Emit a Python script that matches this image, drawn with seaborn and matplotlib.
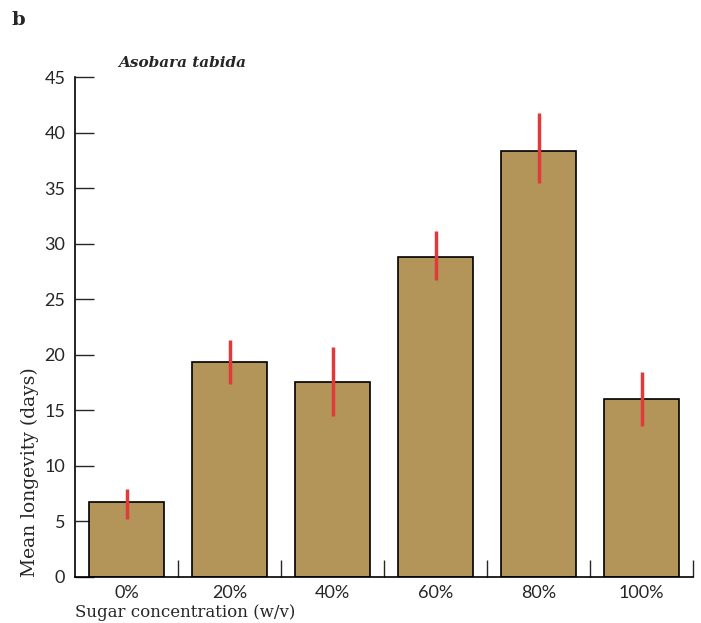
import matplotlib
matplotlib.use("Agg")
import matplotlib.pyplot as plt
import numpy as np
import pandas as pd
import seaborn as sns

# valeurs
concentrations = ["0%", "20%", "40%", "60%", "80%", "100%"]
longevite = [6.75, 19.35, 17.55, 28.8, 38.3, 16.0]
err_bas = [5.2, 17.4, 14.5, 26.7, 35.5, 13.6]
err_haut = [7.9, 21.3, 20.7, 31.1, 41.8, 18.45]

BAR_COLOR = "#b3955a"
ERR_COLOR = "#e03a3a"

sns.set_theme(style="ticks")
plt.rcParams["font.family"] = ["Lato", "DejaVu Sans"]

df = pd.DataFrame({"conc": concentrations, "mean": longevite})

fig = plt.figure(figsize=(7.01, 6.23), dpi=100)
ax = fig.add_axes([0.107, 0.074, 0.8816, 0.8024])

sns.barplot(data=df, x="conc", y="mean", color=BAR_COLOR, saturation=1,
            width=0.72, edgecolor="black", linewidth=1.2, ax=ax)

pos = np.arange(len(concentrations))
ax.vlines(pos, err_bas, err_haut, color=ERR_COLOR, linewidth=2.5, zorder=5)

ax.set_xlim(-0.5, 5.5)
ax.set_ylim(0, 45)
ax.set_yticks(np.arange(0, 50, 5))
sns.despine(ax=ax, top=True, right=True)

ax.tick_params(axis="y", direction="in", length=14, width=1, labelsize=13, pad=7)
ax.tick_params(axis="x", which="major", length=0, labelsize=13, pad=6)
ax.set_xticks(np.arange(0.5, 6, 1), minor=True)
ax.tick_params(axis="x", which="minor", direction="in", length=12, width=1)
for s in ("left", "bottom"):
    ax.spines[s].set_linewidth(1.2)
    ax.spines[s].set_color("black")

ax.set_xlabel("Sugar concentration (w/v)", family="DejaVu Serif", fontsize=12,
              loc="left", labelpad=2)
ax.set_ylabel("Mean longevity (days)", family="DejaVu Serif", fontsize=13.5,
              loc="bottom", labelpad=4)

ax.text(0.0696, 1.0 + 7 / 500, "Asobara tabida", transform=ax.transAxes,
        family="DejaVu Serif", fontsize=11, fontweight="bold", style="italic",
        va="bottom", ha="left")
fig.text(0.017, 0.983, "b", family="DejaVu Serif", fontsize=14,
         fontweight="bold", va="top", ha="left")

plt.savefig("out.png", dpi=100)
